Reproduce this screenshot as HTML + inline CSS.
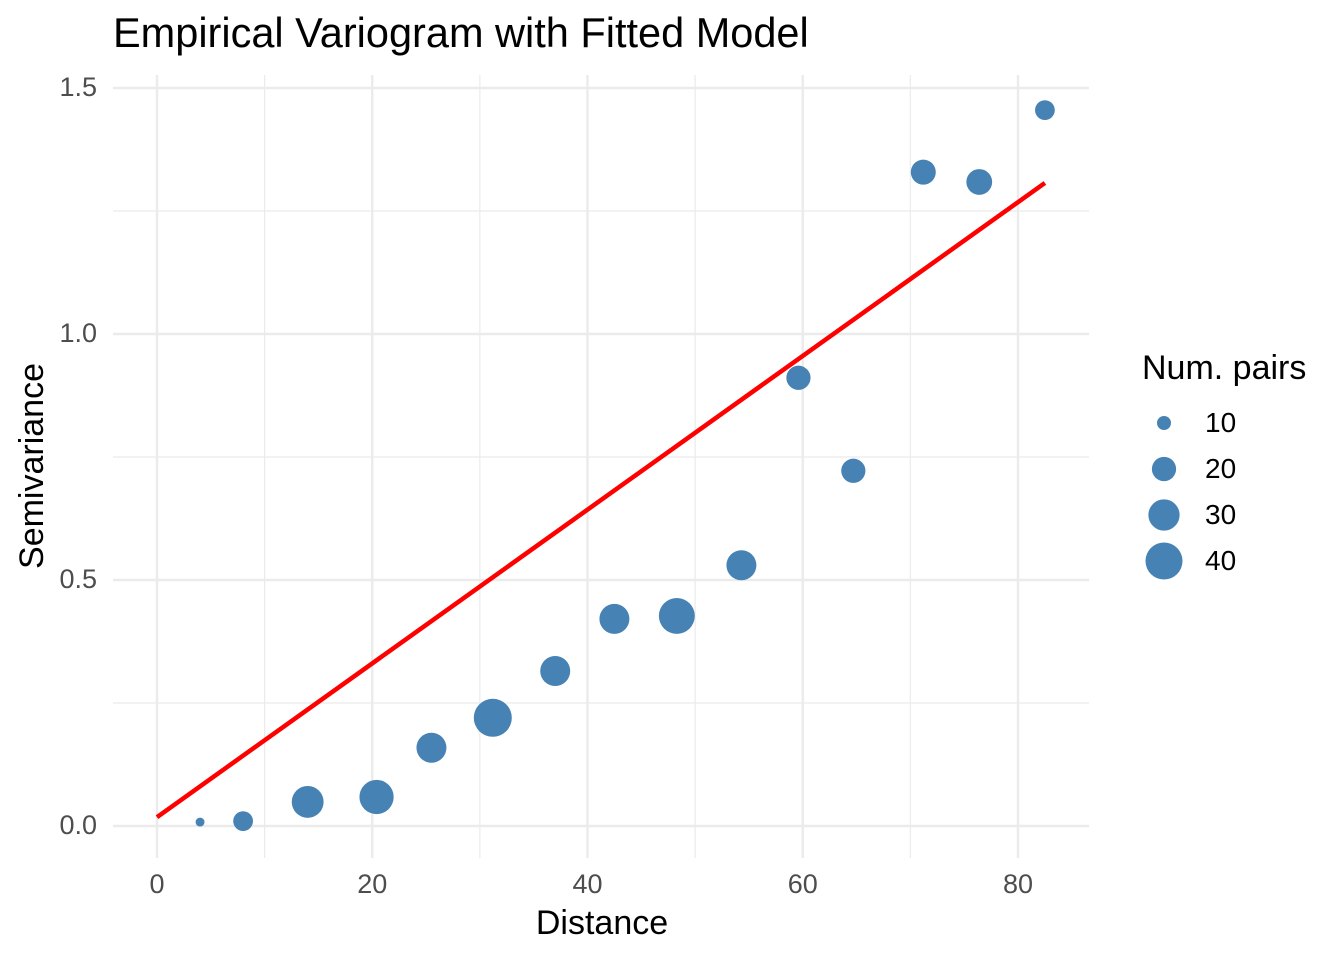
<!DOCTYPE html>
<html><head><meta charset="utf-8"><style>
body{margin:0;background:#fff;}
svg text{font-family:"Liberation Sans",sans-serif;}
</style></head><body>
<svg id="chart" width="1344" height="960" xmlns="http://www.w3.org/2000/svg">
<text x="113" y="47" font-size="41.5" fill="#000">Empirical Variogram with Fitted Model</text>
<g id="grid"></g>
<g id="axes"></g>
<line id="fit" stroke="#ff0000" stroke-width="4.5"/>
<g id="pts"></g>
<text x="602" y="934" font-size="34" text-anchor="middle">Distance</text>
<text transform="translate(43,466) rotate(-90)" font-size="34" text-anchor="middle">Semivariance</text>
<g id="legend">
<text x="1142" y="379" font-size="34">Num. pairs</text>
</g>
</svg>
<script>
const dist=[4.0,8.0,14.0,20.4,25.5,31.2,37.0,42.5,48.3,54.3,59.6,64.7,71.2,76.4,82.5];
const gamma=[0.008,0.01,0.049,0.059,0.159,0.22,0.315,0.421,0.427,0.53,0.911,0.722,1.329,1.309,1.455];
const npairs=[7,15,31,35,28,42,28,28,38,28,20,20,21,22,15];
const fitStart=[0,0.018];
const fitEnd=[82.5,1.307];
const xTicks=[0,20,40,60,80];
const xMinor=[10,30,50,70];
const yTicks=[0,0.5,1.0,1.5];
const yMinor=[0.25,0.75,1.25];
const legendVals=[10,20,30,40];
const NS="http://www.w3.org/2000/svg";
const X=v=>157+v*10.7625, Y=v=>826-v*492;
const R=n=>Math.sqrt(Math.max(1,9.77*n-48.7));
function mk(p,t,a){const e=document.createElementNS(NS,t);for(const k in a)e.setAttribute(k,a[k]);p.appendChild(e);return e;}
const g=document.getElementById('grid'),ax=document.getElementById('axes');
xMinor.forEach(v=>{const l=mk(g,'line',{x1:X(v),x2:X(v),y1:75,y2:858,stroke:'#ebebeb','stroke-width':1.2});

});
yMinor.forEach(v=>{const l=mk(g,'line',{x1:113,x2:1089,y1:Y(v),y2:Y(v),stroke:'#ebebeb','stroke-width':1.2});

});
xTicks.forEach(v=>{const l=mk(g,'line',{x1:X(v),x2:X(v),y1:75,y2:858,stroke:'#ebebeb','stroke-width':2.4});


const t=mk(ax,'text',{x:X(v),y:893,'font-size':27,fill:'#4d4d4d','text-anchor':'middle'});t.textContent=v;

});
yTicks.forEach(v=>{const l=mk(g,'line',{x1:113,x2:1089,y1:Y(v),y2:Y(v),stroke:'#ebebeb','stroke-width':2.4});


const t=mk(ax,'text',{x:97,y:Y(v)+8,'font-size':27,fill:'#4d4d4d','text-anchor':'end'});t.textContent=v.toFixed(1);

});
const f=document.getElementById('fit');
f.setAttribute('x1',X(fitStart[0]));f.setAttribute('y1',Y(fitStart[1]));
f.setAttribute('x2',X(fitEnd[0]));f.setAttribute('y2',Y(fitEnd[1]));
const p=document.getElementById('pts');
dist.forEach((d,i)=>{const c=mk(p,'circle',{cx:X(d),cy:Y(gamma[i]),r:R(npairs[i]),fill:'#4682b4'});

});
const lg=document.getElementById('legend');
legendVals.forEach((v,i)=>{const cy=423+i*46;
const c=mk(lg,'circle',{cx:1164,cy:cy,r:R(v),fill:'#4682b4'});


const t=mk(lg,'text',{x:1205,y:cy+9,'font-size':28});t.textContent=v;

});
</script>
</body></html>
